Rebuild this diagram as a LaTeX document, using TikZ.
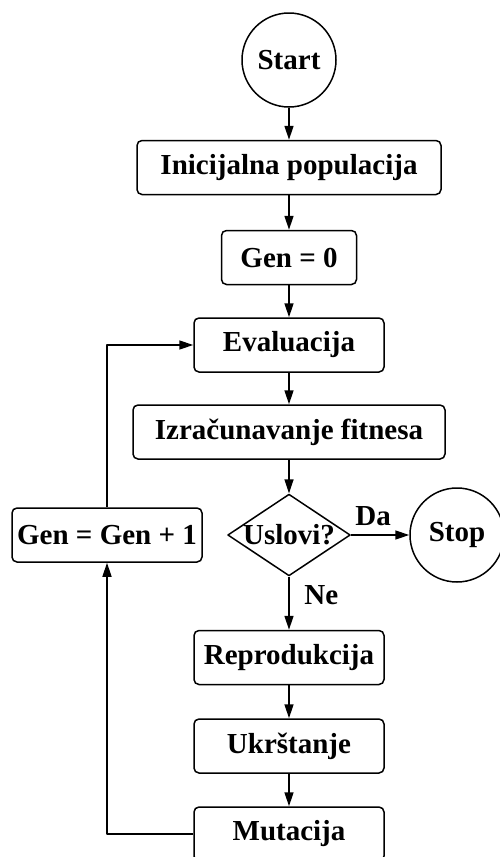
\documentclass[tikz,border=0pt]{standalone}
\usepackage{fontspec}
\setmainfont{Liberation Serif}
\usetikzlibrary{arrows.meta,shapes.geometric}
\begin{document}
\begin{tikzpicture}[x=0.5pt,y=-0.5pt,>={Triangle[length=7pt,width=4.5pt]},line join=round,line width=0.75pt,
	font=\fontsize{14.5}{16}\selectfont\bfseries,
	stepbox/.style={draw,rectangle,rounded corners=2.5pt,minimum width=95pt,minimum height=27pt,inner sep=0pt},
	term/.style={draw,circle,minimum size=47pt,inner sep=0pt},
	test/.style={draw,diamond,aspect=1.5,inner sep=0pt}]
	\useasboundingbox (0,0) rectangle (499,857);
	% glavni tok
	\node[term] (start) at (289,60) {Start};
	\node[stepbox,minimum width=152pt] (init) at (289,167.5) {Inicijalna populacija};
	\node[stepbox,minimum width=67.5pt] (gen0) at (289,257.5) {Gen = 0};
	\node[stepbox] (eval) at (289,345) {Evaluacija};
	\node[stepbox,minimum width=156pt] (fit) at (289,432) {Izračunavanje fitnesa};
	\node[test] (cond) at (289,535) {Uslovi?};
	\node[term] (stop) at (457,535) {Stop};
	\node[stepbox] (inc) at (107,535) {Gen = Gen + 1};
	\node[stepbox] (repr) at (289,657.5) {Reprodukcija};
	\node[stepbox] (cross) at (289,746) {Ukrštanje};
	\node[stepbox] (mut) at (289,834) {Mutacija};
	% strelice
	\draw[->] (start)--(init);
	\draw[->] (init)--(gen0);
	\draw[->] (gen0)--(eval);
	\draw[->] (eval)--(fit);
	\draw[->] (fit)--(cond);
	\draw[->] (cond)--(stop) node[pos=0.38,above=1pt] {Da};
	\draw[->] (cond)--(repr) node[pos=0.35,right=4pt] {Ne};
	\draw[->] (repr)--(cross);
	\draw[->] (cross)--(mut);
	% petlja
	\draw[->] (mut.west) -| (inc.south);
	\draw[->] (inc.north) |- (eval.west);
\end{tikzpicture}
\end{document}
